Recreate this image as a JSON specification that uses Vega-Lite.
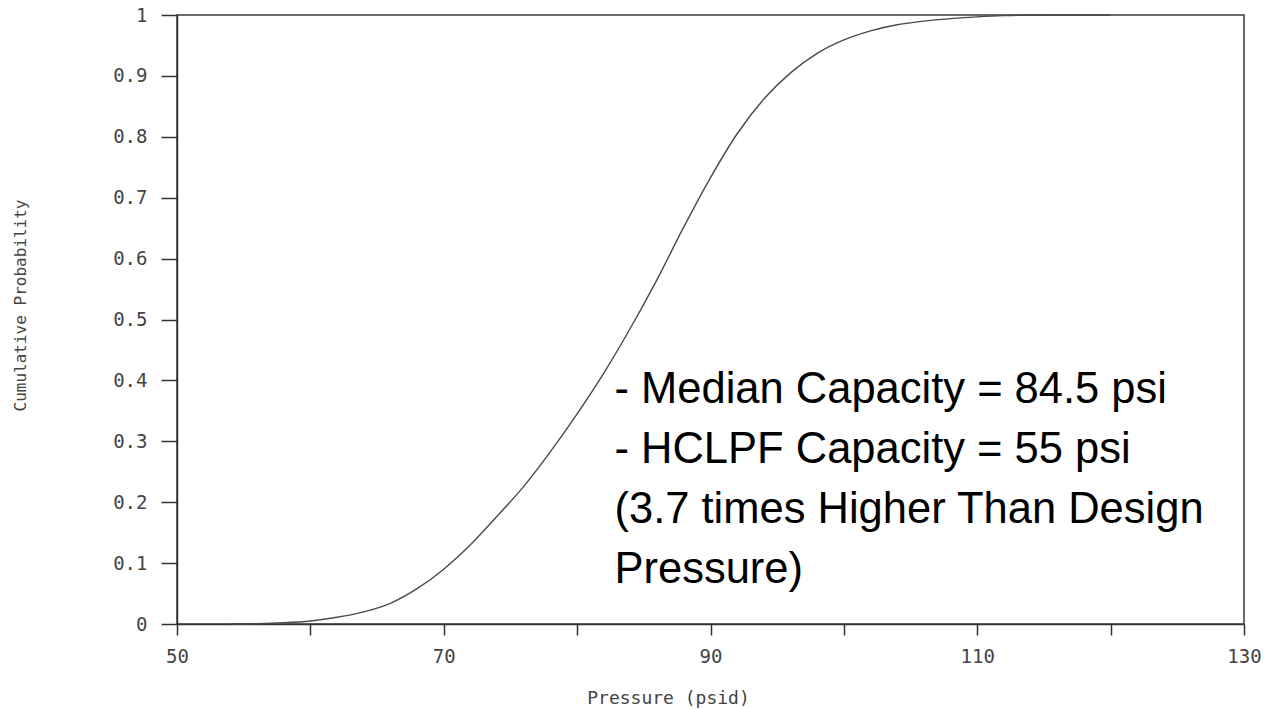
{
  "$schema": "https://vega.github.io/schema/vega-lite/v6.json",
  "width": 1067,
  "height": 609,
  "autosize": "none",
  "padding": {"left": 177, "top": 15, "right": 28, "bottom": 85},
  "background": "white",
  "config": {
    "view": {"stroke": "#3a3a3a", "strokeWidth": 1.5},
    "font": "DejaVu Sans Mono"
  },
  "datasets": {
    "curve": [
      {"pressure": 54, "prob": 0},
      {"pressure": 56, "prob": 0.0005},
      {"pressure": 58, "prob": 0.002},
      {"pressure": 60, "prob": 0.005},
      {"pressure": 62, "prob": 0.011},
      {"pressure": 64, "prob": 0.02},
      {"pressure": 66, "prob": 0.034},
      {"pressure": 68, "prob": 0.058},
      {"pressure": 70, "prob": 0.09},
      {"pressure": 72, "prob": 0.13},
      {"pressure": 74, "prob": 0.177},
      {"pressure": 76, "prob": 0.226},
      {"pressure": 78, "prob": 0.283},
      {"pressure": 80, "prob": 0.345},
      {"pressure": 82, "prob": 0.412},
      {"pressure": 84, "prob": 0.486},
      {"pressure": 86, "prob": 0.566},
      {"pressure": 88, "prob": 0.652},
      {"pressure": 90, "prob": 0.733},
      {"pressure": 92, "prob": 0.805},
      {"pressure": 94, "prob": 0.862},
      {"pressure": 96, "prob": 0.905},
      {"pressure": 98, "prob": 0.937},
      {"pressure": 100, "prob": 0.959},
      {"pressure": 102, "prob": 0.974},
      {"pressure": 104, "prob": 0.984},
      {"pressure": 106, "prob": 0.99},
      {"pressure": 108, "prob": 0.994},
      {"pressure": 110, "prob": 0.997},
      {"pressure": 112, "prob": 0.999},
      {"pressure": 115, "prob": 1.0},
      {"pressure": 120, "prob": 1.0}
    ],
    "notes": [
      {"x": 82.8, "y": 0.363, "text": "- Median Capacity = 84.5 psi"},
      {"x": 82.8, "y": 0.264, "text": "- HCLPF Capacity = 55 psi"},
      {"x": 82.8, "y": 0.166, "text": "(3.7 times Higher Than Design"},
      {"x": 82.8, "y": 0.067, "text": "Pressure)"}
    ]
  },
  "layer": [
    {
      "data": {"name": "curve"},
      "mark": {"type": "line", "color": "#4a4a4a", "strokeWidth": 1.4, "interpolate": "monotone"},
      "encoding": {
        "x": {
          "field": "pressure",
          "type": "quantitative",
          "scale": {"domain": [50, 130], "nice": false, "zero": false},
          "axis": {
            "values": [50, 60, 70, 80, 90, 100, 110, 120, 130],
            "labelExpr": "datum.value % 20 == 10 ? datum.label : ''",
            "grid": false,
            "domainColor": "#333333",
            "domainWidth": 1.5,
            "tickColor": "#333333",
            "tickSize": 11,
            "tickWidth": 1.5,
            "labelPadding": 12,
            "labelFontSize": 19,
            "labelColor": "#444444",
            "labelFont": "DejaVu Sans Mono",
            "labelFlush": false,
            "labelOverlap": false,
            "title": "Pressure (psid)",
            "titleFont": "DejaVu Sans Mono",
            "titleFontSize": 18,
            "titleFontWeight": "normal",
            "titleColor": "#444444",
            "titleX": 491,
            "titleY": 79,
            "titleAlign": "center",
            "titleBaseline": "alphabetic"
          }
        },
        "y": {
          "field": "prob",
          "type": "quantitative",
          "scale": {"domain": [0, 1], "nice": false},
          "axis": {
            "values": [0, 0.1, 0.2, 0.3, 0.4, 0.5, 0.6, 0.7, 0.8, 0.9, 1],
            "format": "~g",
            "grid": false,
            "domainColor": "#333333",
            "domainWidth": 1.5,
            "tickColor": "#333333",
            "tickSize": 16,
            "tickWidth": 1.5,
            "labelPadding": 14,
            "labelFontSize": 19,
            "labelColor": "#444444",
            "labelFont": "DejaVu Sans Mono",
            "labelFlush": false,
            "labelOverlap": false,
            "title": "Cumulative Probability",
            "titleFont": "DejaVu Sans Mono",
            "titleFontSize": 16,
            "titleFontWeight": "normal",
            "titleColor": "#444444",
            "titleAngle": 270,
            "titleX": -157,
            "titleY": 290,
            "titleAlign": "center",
            "titleBaseline": "middle"
          }
        }
      }
    },
    {
      "data": {"name": "notes"},
      "mark": {"type": "text", "align": "left", "baseline": "alphabetic", "font": "Liberation Sans", "fontSize": 43.5, "color": "#000000"},
      "encoding": {
        "x": {"field": "x", "type": "quantitative"},
        "y": {"field": "y", "type": "quantitative"},
        "text": {"field": "text"}
      }
    }
  ]
}
